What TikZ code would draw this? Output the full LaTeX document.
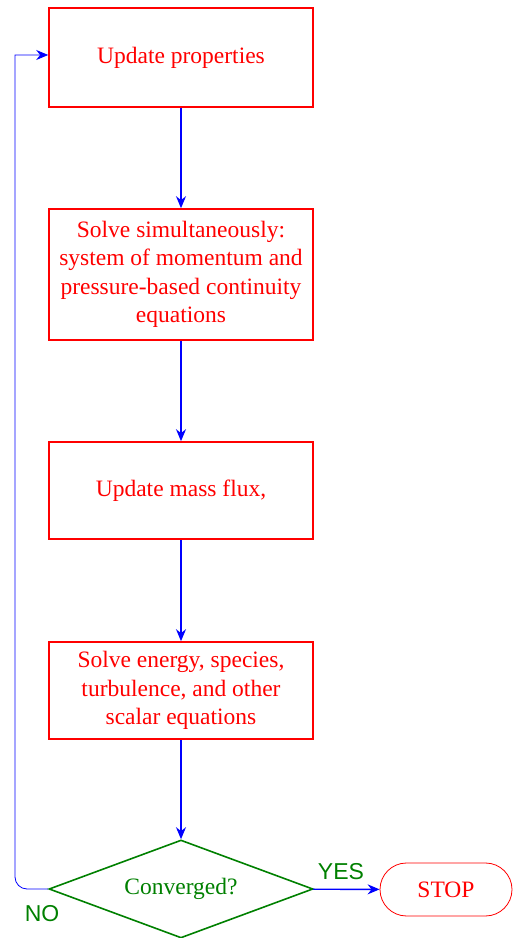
\documentclass[tikz,border=0pt]{standalone}
\usepackage{fontspec}
\setmainfont{Liberation Serif}
\newfontfamily\labelfont{Liberation Sans}
\usetikzlibrary{arrows.meta,positioning,shapes.geometric,shapes.misc}

\begin{document}
\begin{tikzpicture}[x=1pt,y=1pt,>=Stealth,inner sep=0pt]
      % Styles
      \tikzset{stepbox/.style={draw=red,line width=1.6pt,text=red,minimum width=264pt,
                   align=center,font=\fontsize{23.5}{28.3}\selectfont},
               decision/.style={diamond,draw=green!50!black,line width=1.6pt,text=green!50!black,
                   minimum width=264pt,minimum height=98pt,aspect=2.7,font=\fontsize{23.5}{28}\selectfont},
               terminal/.style={rounded rectangle,draw=red,line width=0.8pt,text=red,
                   minimum width=132pt,minimum height=53pt,font=\fontsize{23.5}{28}\selectfont},
               flow/.style={-{Stealth[length=12pt,width=10pt]},line width=1.4pt,blue},
               feedback/.style={-{Stealth[length=12pt,width=10pt]},line width=0.8pt,blue},
               answer/.style={text=green!50!black,font=\labelfont\fontsize{23}{26}\selectfont}}

      \useasboundingbox (0,0) rectangle (513,938);

      % Solver steps (top to bottom)
      \node[stepbox,minimum height=99pt]  (props)  at (181,880.5) {Update properties};
      \node[stepbox,minimum height=131pt] (solve)  at (181,663.5) {Solve simultaneously:\\system of momentum and\\pressure-based continuity\\equations};
      \node[stepbox,minimum height=97pt]  (flux)   at (181,447.5) {Update mass flux,};
      \node[stepbox,minimum height=97pt]  (scalar) at (181,247.5) {Solve energy, species,\\turbulence, and other\\scalar equations};

      % Convergence check and end
      \node[decision] (conv) at (181,49) {Converged?};
      \node[terminal] (stop) at (446,48.5) {STOP};

      % Main flow
      \draw[flow] (props) -- (solve);
      \draw[flow] (solve) -- (flux);
      \draw[flow] (flux) -- (scalar);
      \draw[flow] (scalar) -- (conv);
      \draw[flow] (conv) -- (stop);
      \node[answer] (yes) at (341,66) {YES};

      % Loop back when not converged
      \coordinate (back) at (15,883);
      \draw[feedback] (conv.west) [rounded corners=12pt] -- (conv.west -| back) [sharp corners] -- (back) -- (props.west |- back);
      \node[answer] (no) at (42,24) {NO};
    \end{tikzpicture}
\end{document}
